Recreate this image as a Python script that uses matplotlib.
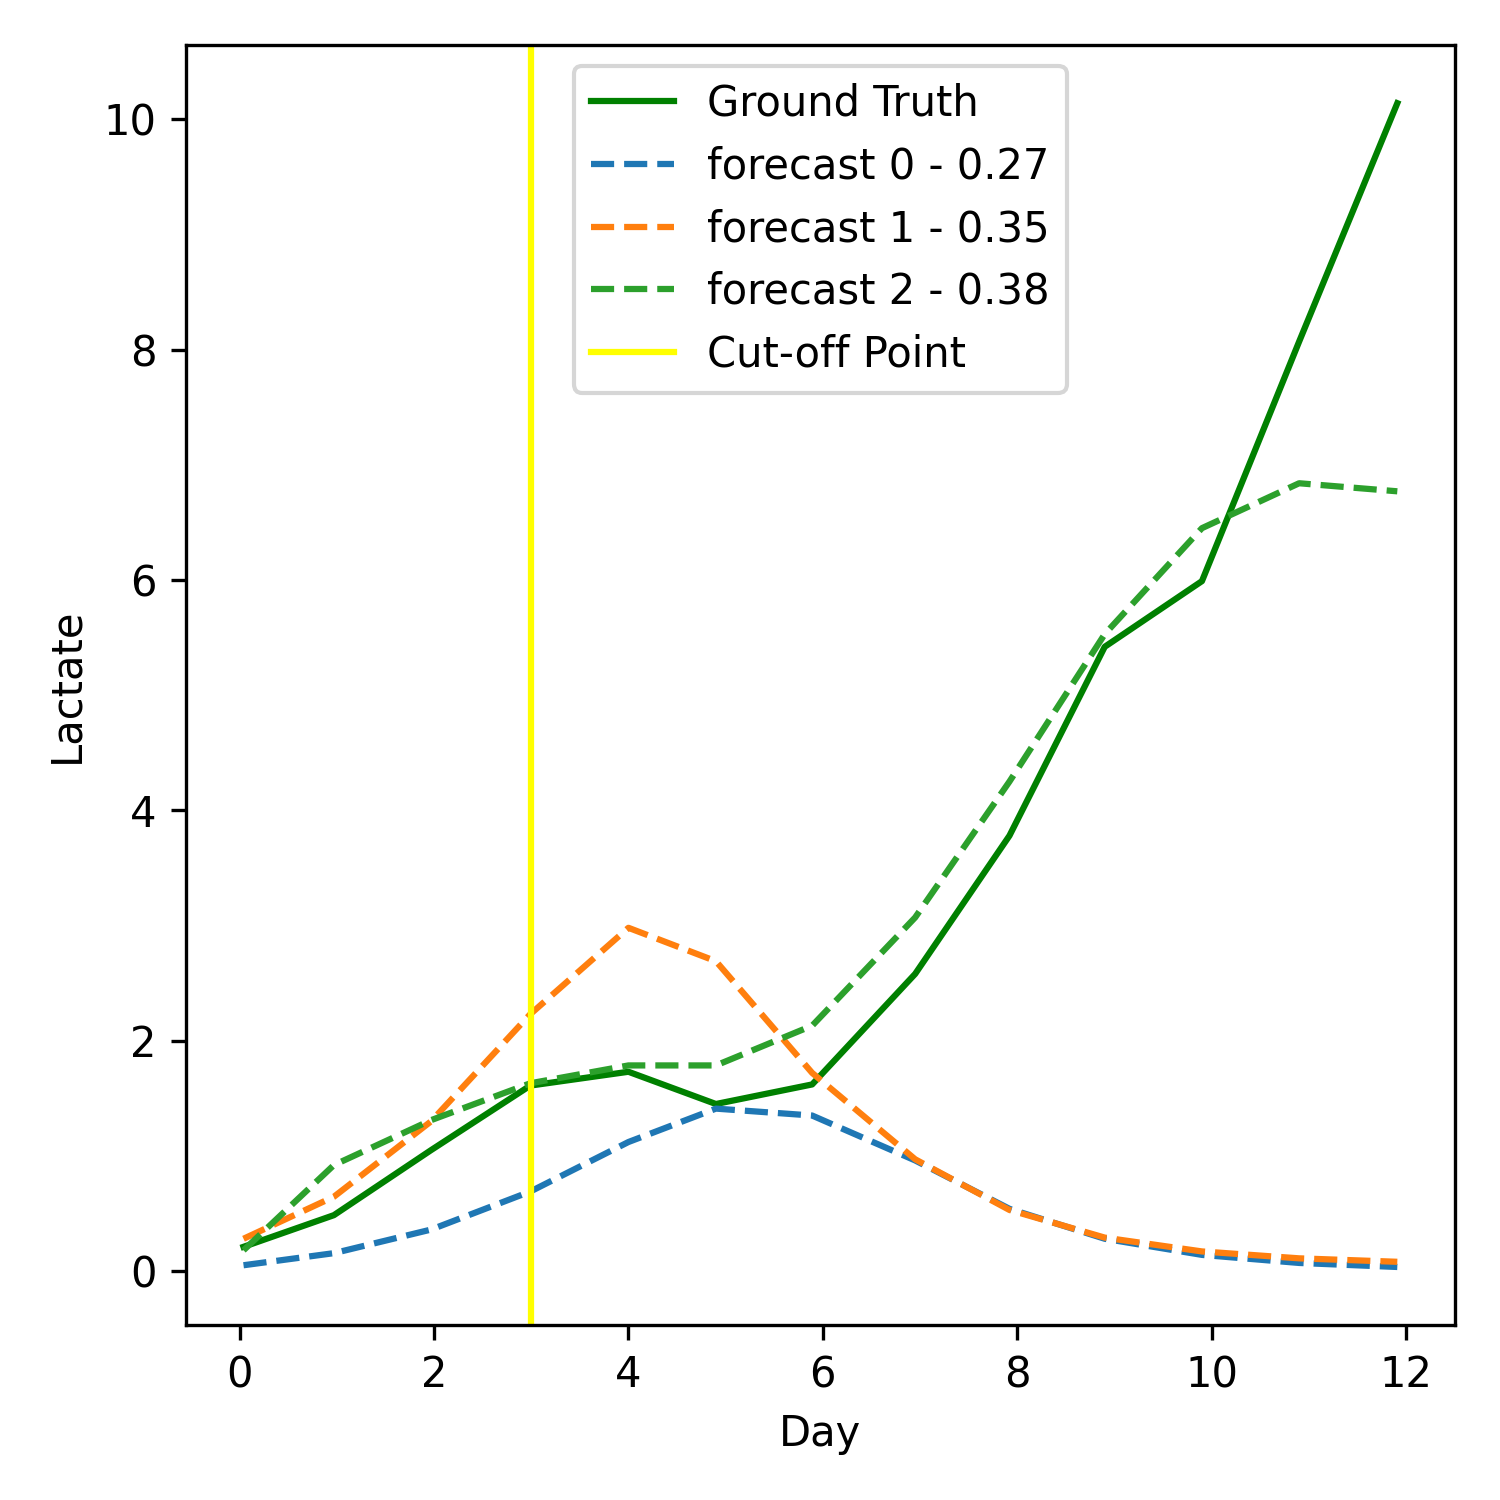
import matplotlib
matplotlib.use("Agg")
import matplotlib.pyplot as plt

# day positions of the samples
days = [0.04, 0.97, 1.97, 2.99, 4.0, 4.9, 5.89, 6.95, 7.92, 8.9, 9.9, 10.9, 11.91]

ground_truth = [0.21, 0.485, 1.05, 1.61, 1.73, 1.45, 1.62, 2.58, 3.78, 5.42, 5.99, 8.07, 10.14]
forecast_0 = [0.05, 0.155, 0.36, 0.69, 1.12, 1.41, 1.35, 0.96, 0.54, 0.28, 0.14, 0.07, 0.035]
forecast_1 = [0.28, 0.645, 1.30, 2.23, 2.98, 2.69, 1.72, 0.97, 0.53, 0.29, 0.17, 0.11, 0.08]
forecast_2 = [0.18, 0.92, 1.31, 1.63, 1.785, 1.785, 2.13, 3.07, 4.25, 5.53, 6.45, 6.84, 6.77]

forecast_names = ["forecast 0 - 0.27", "forecast 1 - 0.35", "forecast 2 - 0.38"]
cutoff_day = 3

fig, ax = plt.subplots(figsize=(5, 5), dpi=300)

ax.plot(days, ground_truth, color="green", label="Ground Truth")
for i, (vals, name) in enumerate(zip([forecast_0, forecast_1, forecast_2], forecast_names)):
    ax.plot(days, vals, linestyle="--", color=f"C{i}", label=name)
ax.axvline(cutoff_day, color="yellow", label="Cut-off Point")

ax.set_xlabel("Day")
ax.set_ylabel("Lactate")
ax.legend(loc="upper center")

plt.tight_layout()
plt.savefig("out.png")
